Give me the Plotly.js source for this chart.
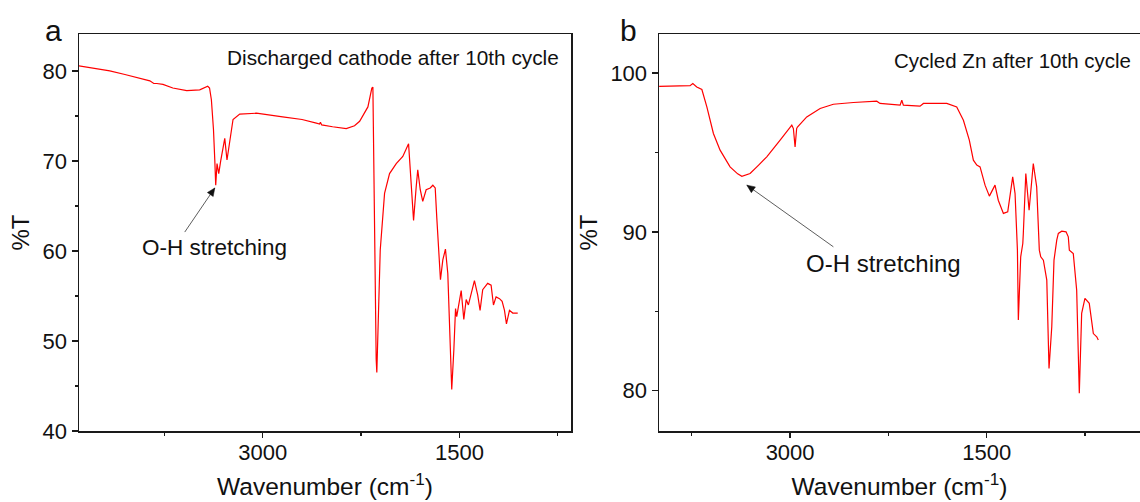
<!DOCTYPE html>
<html>
<head>
<meta charset="utf-8">
<script src="https://cdn.plot.ly/plotly-3.0.1.min.js"></script>
<style>html,body{margin:0;padding:0;background:#fff;}#chart{width:1140px;height:502px;}</style>
</head>
<body>
<div id="chart"></div>
<script>
// Panel a: discharged cathode after 10th cycle
const waveA = [4401,4300,4165,4050,3950,3860,3830,3807,3760,3685,3579,3480,3419,3405,3391,3375,3365,3358,3348,3335,3320,3307,3289,3272,3251,3226,3175,3048,2848,2700,2591,2566,2560,2550,2467,2363,2300,2261,2198,2168,2160,2147,2135,2130,2120,2104,2071,2033,1982,1932,1888,1868,1850,1830,1818,1799,1780,1754,1723,1703,1685,1673,1658,1645,1627,1607,1589,1571,1559,1543,1530,1521,1505,1487,1467,1449,1432,1411,1386,1361,1343,1323,1285,1259,1241,1221,1195,1175,1157,1142,1119,1094,1056];
const transA = [80.56,80.35,80.0,79.6,79.2,78.9,78.6,78.6,78.5,78.1,77.8,77.9,78.3,78.1,76.8,73.5,70.1,67.3,69.7,68.6,70.0,71.2,72.5,70.1,72.3,74.6,75.2,75.3,74.9,74.6,74.2,74.1,74.3,74.0,73.8,73.6,73.9,74.4,76.0,78.1,78.2,60.0,48.0,46.5,52.0,60.1,66.4,68.6,69.7,70.5,71.9,67.5,63.4,67.1,69.0,66.8,65.5,66.8,67.0,67.3,67.0,63.7,60.1,56.8,59.0,60.2,57.5,50.1,44.6,49.0,53.6,52.7,54.2,55.6,52.4,54.6,54.0,55.3,56.7,55.1,53.4,55.7,56.4,56.2,54.0,54.9,54.7,54.4,53.4,51.9,53.4,53.1,53.1];

// Panel b: cycled Zn after 10th cycle
const waveB = [3999,3850,3763,3742,3712,3673,3635,3585,3534,3458,3400,3368,3305,3240,3178,3076,2987,2975,2962,2950,2944,2873,2771,2670,2517,2339,2314,2161,2148,2136,2009,1983,1805,1729,1678,1633,1602,1576,1551,1513,1480,1437,1412,1373,1340,1302,1284,1266,1259,1241,1225,1221,1202,1177,1145,1119,1099,1088,1068,1042,1025,1004,987,966,954,928,895,878,870,840,814,794,776,751,718,687,661,649];
const transB = [99.16,99.2,99.2,99.33,99.12,98.96,97.86,96.19,95.14,94.09,93.65,93.5,93.67,94.2,94.72,95.77,96.71,96.5,95.35,96.5,96.6,97.23,97.76,98.03,98.14,98.22,98.08,97.97,98.28,97.97,97.91,98.08,98.08,97.86,97.02,95.77,94.51,94.2,94.09,92.94,92.25,92.94,91.99,91.16,91.26,93.46,92.41,88.85,84.45,88.43,89.27,89.9,93.67,91.36,94.3,92.83,88.85,88.43,88.22,86.96,81.41,84.03,88.22,89.48,89.9,90.04,90.0,89.69,88.85,88.64,86.33,79.84,84.87,85.81,85.5,83.6,83.4,83.2];

const xTickVals = [3000, 1500];
const xTickText = ['3000', '1500'];
const yTickValsA = [40, 50, 60, 70, 80];
const yTickValsB = [80, 90, 100];
const xTitle = 'Wavenumber (cm<sup>-1</sup>)';
const yTitle = '%T';
const labelA = 'Discharged cathode after 10th cycle';
const labelB = 'Cycled Zn after 10th cycle';
const peakLabel = 'O-H stretching';

// annotation arrows: [tipWave, tipT, tailWave, tailT]
const arrowA = [3365, 67.0, 3594, 62.1];
const arrowB = [3330, 92.94, 2670, 89.06];

const FONT = 'Liberation Sans, Arial, sans-serif';
const axisCommon = {
  showline: true, linecolor: '#1a1a1a', linewidth: 1.5,
  ticks: 'outside', ticklen: 6, tickwidth: 1.3, tickcolor: '#1a1a1a',
  showgrid: false, zeroline: false, automargin: false,
  tickfont: {family: FONT, size: 22, color: '#111'}
};
const xAxisExtra = {ticklen: 5, ticklabelstandoff: -4};

const traces = [
  {x: waveA, y: transA, type: 'scatter', mode: 'lines', line: {color: '#ff0000', width: 1.2}, xaxis: 'x', yaxis: 'y', showlegend: false, hoverinfo: 'skip'},
  {x: waveB, y: transB, type: 'scatter', mode: 'lines', line: {color: '#ff0000', width: 1.2}, xaxis: 'x2', yaxis: 'y2', showlegend: false, hoverinfo: 'skip'}
];

const yDom = [(502-431)/502, (502-34)/502];

function arrowShapes(a, xr, yr, headPath) {
  return [
    {type: 'line', xref: xr, yref: yr, x0: a[2], y0: a[3], x1: a[0], y1: a[1], line: {color: '#333', width: 0.8}},
    {type: 'path', xref: xr, yref: yr, xsizemode: 'pixel', ysizemode: 'pixel', xanchor: a[0], yanchor: a[1],
     path: headPath, fillcolor: '#111', line: {color: '#111', width: 0.5}}
  ];
}

const layout = {
  width: 1140, height: 502,
  margin: {l: 0, r: 0, t: 0, b: 0},
  paper_bgcolor: '#fff', plot_bgcolor: '#fff',
  font: {family: FONT, color: '#111'},
  xaxis: Object.assign({}, axisCommon, xAxisExtra, {
    domain: [79/1140, 571/1140], range: [4400, 650], anchor: 'y', mirror: true,
    tickvals: xTickVals, ticktext: xTickText,
    minor: {tickvals: [3750, 2250, 750], ticklen: 3, ticks: 'outside', tickcolor: '#1a1a1a', tickwidth: 1.2},
    title: {text: xTitle, font: {family: FONT, size: 24.5, color: '#111'}, standoff: 14}
  }),
  yaxis: Object.assign({}, axisCommon, {
    domain: yDom, range: [40, 84.1], anchor: 'x', mirror: true,
    tickvals: yTickValsA,
    minor: {tickvals: [45, 55, 65, 75], ticklen: 3, ticks: 'outside', tickcolor: '#1a1a1a', tickwidth: 1.2},
    title: {text: yTitle, font: {family: FONT, size: 24, color: '#111'}, standoff: 6}
  }),
  xaxis2: Object.assign({}, axisCommon, xAxisExtra, {
    domain: [659/1140, 1], range: [4000, 331], anchor: 'y2', mirror: true,
    tickvals: xTickVals, ticktext: xTickText,
    minor: {tickvals: [3750, 2250, 750], ticklen: 3, ticks: 'outside', tickcolor: '#1a1a1a', tickwidth: 1.2},
    title: {text: xTitle, font: {family: FONT, size: 24.5, color: '#111'}, standoff: 14}
  }),
  yaxis2: Object.assign({}, axisCommon, {
    domain: yDom, range: [77.47, 102.45], anchor: 'x2', mirror: false,
    tickvals: yTickValsB,
    minor: {tickvals: [85, 95], ticklen: 3, ticks: 'outside', tickcolor: '#1a1a1a', tickwidth: 1.2},
    title: {text: yTitle, font: {family: FONT, size: 24, color: '#111'}, standoff: 6}
  }),
  shapes: [].concat(
    arrowShapes(arrowA, 'x', 'y', 'M0,0 L-7.4,-4.6 L-1.6,-8.6 Z'),
    arrowShapes(arrowB, 'x2', 'y2', 'M0,0 L4.5,-7.5 L8.6,-1.8 Z')
  ),
  annotations: [
    {xref: 'paper', yref: 'paper', x: 53/1140, y: (502-31)/502, text: 'a', showarrow: false, font: {family: FONT, size: 30, color: '#111'}, xanchor: 'center', yanchor: 'middle'},
    {xref: 'paper', yref: 'paper', x: 628/1140, y: (502-31)/502, text: 'b', showarrow: false, font: {family: FONT, size: 30, color: '#111'}, xanchor: 'center', yanchor: 'middle'},
    {xref: 'paper', yref: 'paper', x: 561/1140, y: (502-57)/502, text: labelA, showarrow: false, font: {family: FONT, size: 20.8, color: '#111'}, xanchor: 'right', yanchor: 'middle'},
    {xref: 'paper', yref: 'paper', x: 1133/1140, y: (502-60)/502, text: labelB, showarrow: false, font: {family: FONT, size: 20.5, color: '#111'}, xanchor: 'right', yanchor: 'middle'},
    {xref: 'x', yref: 'y', x: 3365, y: 60.4, text: peakLabel, showarrow: false, font: {family: FONT, size: 22.5, color: '#111'}, xanchor: 'center', yanchor: 'middle'},
    {xref: 'x2', yref: 'y2', x: 2291, y: 88.03, text: peakLabel, showarrow: false, font: {family: FONT, size: 24, color: '#111'}, xanchor: 'center', yanchor: 'middle'}
  ]
};

Plotly.newPlot('chart', traces, layout, {staticPlot: true, displayModeBar: false});
</script>
</body>
</html>
